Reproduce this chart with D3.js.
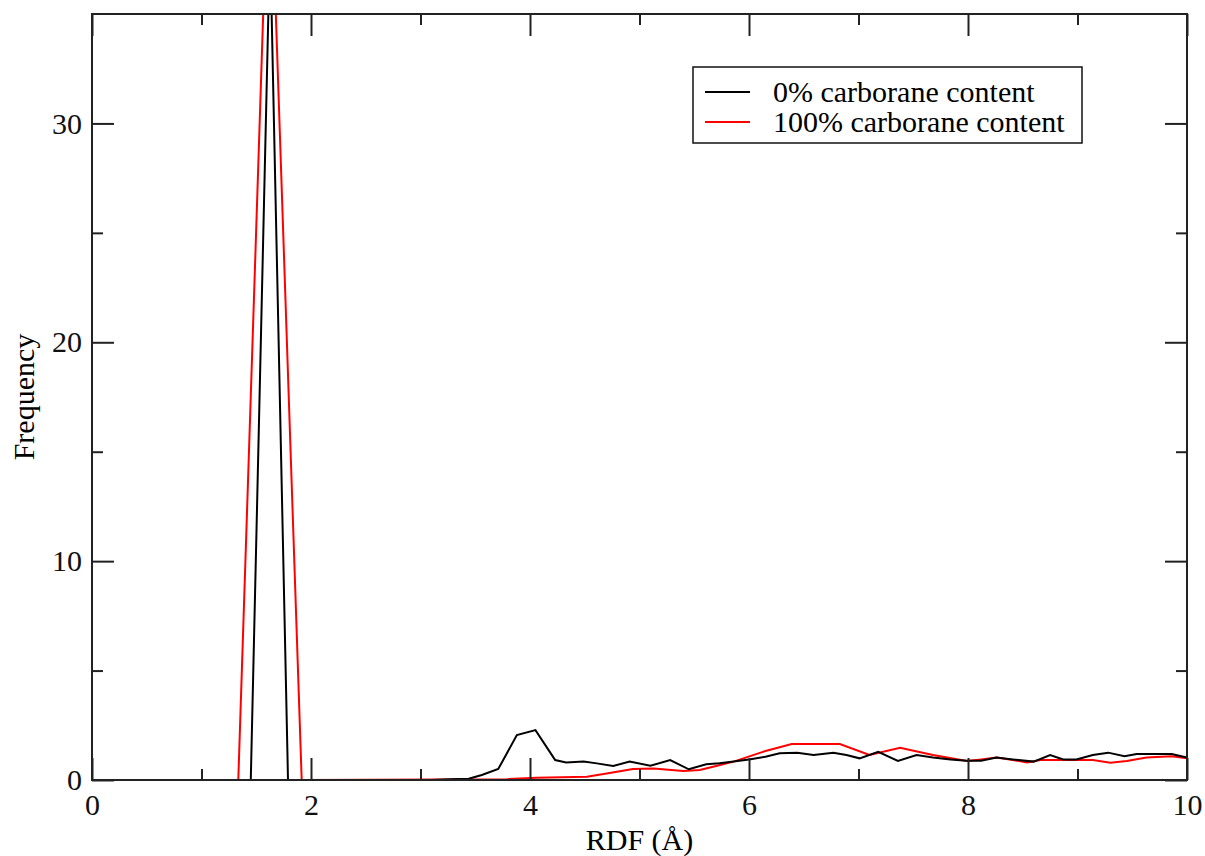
<!DOCTYPE html>
<html lang="en">
<head>
    <meta charset="UTF-8">
    <title>RDF - carborane content</title>
    <style>
        body {
            margin: 0;
            background: white;
        }
        svg {
            display: block;
            font-family: "Liberation Serif", "Times New Roman", serif;
        }
        .axis path {
            display: none;
        }
        .axis line {
            stroke: #222;
            stroke-width: 2px;
        }
        .frame {
            fill: none;
            stroke: #222;
            stroke-width: 2px;
        }
        .line {
            fill: none;
            stroke-width: 2px;
        }
    </style>
</head>
<body>
    <svg width="1205" height="856"></svg>
    <script src="https://d3js.org/d3.v7.min.js"></script>
    <script>
        // 0% carborane content (black)
        var blackRdf = [0, 1.45, 1.626, 1.79, 3.1, 3.27, 3.44, 3.56, 3.71, 3.88,
            4.05, 4.23, 4.33, 4.49, 4.61, 4.76, 4.91, 5.10, 5.28, 5.45,
            5.61, 5.73, 5.86, 6.0, 6.15, 6.28, 6.44, 6.59, 6.77, 6.89,
            7.01, 7.18, 7.36, 7.53, 7.68, 7.84, 7.99, 8.12, 8.26, 8.41,
            8.60, 8.75, 8.87, 8.99, 9.14, 9.28, 9.43, 9.54, 9.70, 9.86, 10.0];
        var blackFreq = [0, 0, 38.4, 0, 0, 0.03, 0.06, 0.23, 0.5, 2.05,
            2.28, 0.91, 0.8, 0.84, 0.76, 0.64, 0.84, 0.65, 0.91, 0.49,
            0.72, 0.76, 0.84, 0.94, 1.06, 1.22, 1.25, 1.14, 1.25, 1.14,
            0.99, 1.29, 0.87, 1.14, 1.03, 0.94, 0.88, 0.88, 1.03, 0.94,
            0.84, 1.14, 0.94, 0.94, 1.14, 1.25, 1.09, 1.19, 1.19, 1.19, 1.03];

        // 100% carborane content (red)
        var redRdf = [0, 1.336, 1.62, 1.915, 3.79, 4.06, 4.52, 4.70, 4.94, 5.13,
            5.40, 5.55, 5.70, 5.86, 6.01, 6.16, 6.39, 6.83, 7.10, 7.38,
            7.68, 7.99, 8.12, 8.26, 8.41, 8.54, 8.66, 8.99, 9.14, 9.30,
            9.45, 9.63, 9.86, 10.0];
        var redFreq = [0, 0, 43.7, 0, 0.04, 0.1, 0.15, 0.3, 0.5, 0.53,
            0.41, 0.46, 0.64, 0.84, 1.09, 1.34, 1.64, 1.64, 1.14, 1.47,
            1.14, 0.87, 0.94, 1.03, 0.91, 0.80, 0.91, 0.91, 0.91, 0.79,
            0.87, 1.03, 1.09, 0.99];

        var xMajor = [0, 2, 4, 6, 8, 10],
            xMinor = [1, 3, 5, 7, 9],
            yMajor = [0, 10, 20, 30],
            yMinor = [5, 15, 25];

        var legendLabels = ["0% carborane content", "100% carborane content"],
            legendColors = ["#000", "#ff0000"];

        var serif = '"Liberation Serif", "Times New Roman", serif';

        var svg = d3.select("svg"),
            margin = {top: 14, right: 18, bottom: 76, left: 92},
            width = +svg.attr("width") - margin.left - margin.right,
            height = +svg.attr("height") - margin.top - margin.bottom;

        var x = d3.scaleLinear().domain([0, 10]).range([0, width]),
            y = d3.scaleLinear().domain([0, 35]).range([height, 0]);

        var g = svg.append("g")
            .attr("transform", "translate(" + margin.left + "," + margin.top + ")");

        g.append("clipPath")
            .attr("id", "plotclip")
          .append("rect")
            .attr("width", width)
            .attr("height", height);

        var line = d3.line()
            .x(function(d) { return x(d[0]); })
            .y(function(d) { return y(d[1]); });

        var series = [
            {data: d3.zip(redRdf, redFreq), color: legendColors[1]},
            {data: d3.zip(blackRdf, blackFreq), color: legendColors[0]}
        ];

        g.selectAll(".line")
            .data(series)
            .enter().append("path")
            .attr("class", "line")
            .attr("clip-path", "url(#plotclip)")
            .attr("stroke", function(d) { return d.color; })
            .attr("d", function(d) { return line(d.data); });

        // ticks point inward, on all four sides
        function addAxis(axis, tx, ty) {
            var a = g.append("g")
                .attr("class", "axis")
                .attr("transform", "translate(" + tx + "," + ty + ")")
                .call(axis.tickSizeOuter(0));
            a.attr("font-family", null).attr("font-size", null);
            a.selectAll("text")
                .style("font-family", serif)
                .style("font-size", "30px")
                .style("fill", "#111");
        }

        addAxis(d3.axisBottom(x).tickValues(xMajor).tickSize(-22).tickPadding(14).tickFormat(d3.format("d")), 0, height);
        addAxis(d3.axisBottom(x).tickValues(xMinor).tickSize(-11).tickFormat(""), 0, height);
        addAxis(d3.axisTop(x).tickValues(xMajor).tickSize(-22).tickFormat(""), 0, 0);
        addAxis(d3.axisTop(x).tickValues(xMinor).tickSize(-11).tickFormat(""), 0, 0);
        addAxis(d3.axisLeft(y).tickValues(yMajor).tickSize(-22).tickPadding(10).tickFormat(d3.format("d")), 0, 0);
        addAxis(d3.axisLeft(y).tickValues(yMinor).tickSize(-11).tickFormat(""), 0, 0);
        addAxis(d3.axisRight(y).tickValues(yMajor).tickSize(-22).tickFormat(""), width, 0);
        addAxis(d3.axisRight(y).tickValues(yMinor).tickSize(-11).tickFormat(""), width, 0);

        g.append("rect")
            .attr("class", "frame")
            .attr("width", width)
            .attr("height", height);

        g.append("text")
            .attr("x", width / 2)
            .attr("y", height + 70)
            .attr("text-anchor", "middle")
            .style("font-size", "30px")
            .text("RDF (Å)");

        g.append("text")
            .attr("transform", "translate(" + (-58) + "," + (height / 2) + ") rotate(-90)")
            .attr("text-anchor", "middle")
            .style("font-size", "30px")
            .text("Frequency");

        // legend
        var legend = g.append("g")
            .attr("transform", "translate(" + (693 - margin.left) + "," + (67 - margin.top) + ")");

        legend.append("rect")
            .attr("width", 389)
            .attr("height", 76)
            .attr("fill", "white")
            .attr("stroke", "#111")
            .attr("stroke-width", 1.5);

        var item = legend.selectAll(".item")
            .data(legendLabels)
            .enter().append("g")
            .attr("class", "item")
            .attr("transform", function(d, i) { return "translate(0," + (25 + i * 30) + ")"; });

        item.append("line")
            .attr("x1", 12)
            .attr("x2", 57)
            .attr("stroke", function(d, i) { return legendColors[i]; })
            .attr("stroke-width", 2);

        item.append("text")
            .attr("x", 80)
            .attr("dy", "0.33em")
            .style("font-size", "30px")
            .text(function(d) { return d; });
    </script>
</body>
</html>
